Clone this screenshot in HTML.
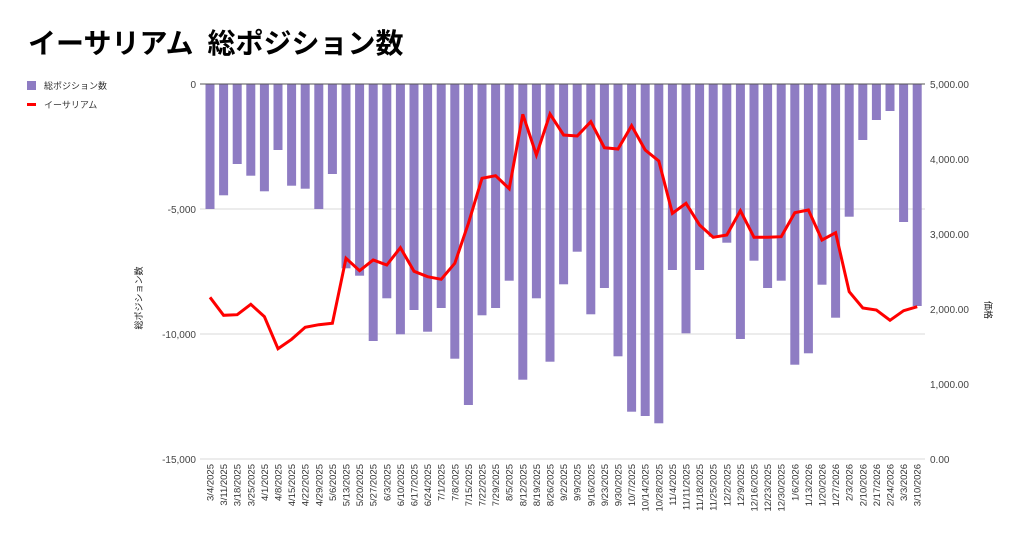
<!DOCTYPE html>
<html><head><meta charset="utf-8"><style>
html,body{margin:0;padding:0;background:#fff;}
svg{display:block;font-family:"Liberation Sans","Noto Sans CJK JP",sans-serif;}
</style></head><body>
<svg id="s" width="1024" height="543" viewBox="0 0 1024 543" xmlns="http://www.w3.org/2000/svg">
<rect width="1024" height="543" fill="#fff"/>
<text x="28" y="53" font-size="28" font-weight="bold" fill="#000">イーサリアム<tspan dx="14">総ポジション数</tspan></text>
<rect x="27" y="81" width="9" height="9" fill="#8e7cc3"/>
<text x="44" y="89" font-size="9" fill="#333">総ポジション数</text>
<rect x="27" y="103" width="9" height="3" fill="#ff0000"/>
<text x="44" y="108" font-size="9" fill="#333">イーサリアム</text>
<g stroke="#d9d9d9" stroke-width="1">
<line x1="200" y1="209" x2="925" y2="209"/><line x1="200" y1="334" x2="925" y2="334"/><line x1="200" y1="459" x2="925" y2="459"/>
</g>
<g id="bars" fill="#8e7cc3"></g>
<line x1="200" y1="84" x2="925" y2="84" stroke="#555" stroke-width="1"/>
<polyline id="ln" fill="none" stroke="#ff0000" stroke-width="3" stroke-linejoin="miter"/>
<g font-size="10" fill="#444" text-anchor="end">
<text x="196" y="88">0</text><text x="196" y="213">-5,000</text><text x="196" y="338">-10,000</text><text x="196" y="463">-15,000</text>
</g>
<g font-size="10" fill="#444">
<text x="930" y="88">5,000.00</text><text x="930" y="163">4,000.00</text><text x="930" y="238">3,000.00</text><text x="930" y="313">2,000.00</text><text x="930" y="388">1,000.00</text><text x="930" y="463">0.00</text>
</g>
<text transform="translate(142,298) rotate(-90)" font-size="9" fill="#222" text-anchor="middle">総ポジション数</text>
<text transform="translate(985,310) rotate(90)" font-size="9" fill="#222" text-anchor="middle">価格</text>
<g font-size="9.5" fill="#333" text-anchor="end">
<text transform="translate(213.5,464) rotate(-90)">3/4/2025</text>
<text transform="translate(227.1,464) rotate(-90)">3/11/2025</text>
<text transform="translate(240.7,464) rotate(-90)">3/18/2025</text>
<text transform="translate(254.3,464) rotate(-90)">3/25/2025</text>
<text transform="translate(267.9,464) rotate(-90)">4/1/2025</text>
<text transform="translate(281.5,464) rotate(-90)">4/8/2025</text>
<text transform="translate(295.1,464) rotate(-90)">4/15/2025</text>
<text transform="translate(308.7,464) rotate(-90)">4/22/2025</text>
<text transform="translate(322.3,464) rotate(-90)">4/29/2025</text>
<text transform="translate(335.9,464) rotate(-90)">5/6/2025</text>
<text transform="translate(349.5,464) rotate(-90)">5/13/2025</text>
<text transform="translate(363.1,464) rotate(-90)">5/20/2025</text>
<text transform="translate(376.7,464) rotate(-90)">5/27/2025</text>
<text transform="translate(390.3,464) rotate(-90)">6/3/2025</text>
<text transform="translate(403.9,464) rotate(-90)">6/10/2025</text>
<text transform="translate(417.5,464) rotate(-90)">6/17/2025</text>
<text transform="translate(431.1,464) rotate(-90)">6/24/2025</text>
<text transform="translate(444.7,464) rotate(-90)">7/1/2025</text>
<text transform="translate(458.3,464) rotate(-90)">7/8/2025</text>
<text transform="translate(471.9,464) rotate(-90)">7/15/2025</text>
<text transform="translate(485.5,464) rotate(-90)">7/22/2025</text>
<text transform="translate(499.1,464) rotate(-90)">7/29/2025</text>
<text transform="translate(512.7,464) rotate(-90)">8/5/2025</text>
<text transform="translate(526.3,464) rotate(-90)">8/12/2025</text>
<text transform="translate(539.9,464) rotate(-90)">8/19/2025</text>
<text transform="translate(553.5,464) rotate(-90)">8/26/2025</text>
<text transform="translate(567.1,464) rotate(-90)">9/2/2025</text>
<text transform="translate(580.7,464) rotate(-90)">9/9/2025</text>
<text transform="translate(594.3,464) rotate(-90)">9/16/2025</text>
<text transform="translate(607.9,464) rotate(-90)">9/23/2025</text>
<text transform="translate(621.5,464) rotate(-90)">9/30/2025</text>
<text transform="translate(635.1,464) rotate(-90)">10/7/2025</text>
<text transform="translate(648.7,464) rotate(-90)">10/14/2025</text>
<text transform="translate(662.3,464) rotate(-90)">10/28/2025</text>
<text transform="translate(675.9,464) rotate(-90)">11/4/2025</text>
<text transform="translate(689.5,464) rotate(-90)">11/11/2025</text>
<text transform="translate(703.1,464) rotate(-90)">11/18/2025</text>
<text transform="translate(716.7,464) rotate(-90)">11/25/2025</text>
<text transform="translate(730.3,464) rotate(-90)">12/2/2025</text>
<text transform="translate(743.9,464) rotate(-90)">12/9/2025</text>
<text transform="translate(757.5,464) rotate(-90)">12/16/2025</text>
<text transform="translate(771.1,464) rotate(-90)">12/23/2025</text>
<text transform="translate(784.7,464) rotate(-90)">12/30/2025</text>
<text transform="translate(798.3,464) rotate(-90)">1/6/2026</text>
<text transform="translate(811.9,464) rotate(-90)">1/13/2026</text>
<text transform="translate(825.5,464) rotate(-90)">1/20/2026</text>
<text transform="translate(839.1,464) rotate(-90)">1/27/2026</text>
<text transform="translate(852.7,464) rotate(-90)">2/3/2026</text>
<text transform="translate(866.3,464) rotate(-90)">2/10/2026</text>
<text transform="translate(879.9,464) rotate(-90)">2/17/2026</text>
<text transform="translate(893.5,464) rotate(-90)">2/24/2026</text>
<text transform="translate(907.1,464) rotate(-90)">3/3/2026</text>
<text transform="translate(920.7,464) rotate(-90)">3/10/2026</text>
</g>
</svg>
<script>
var h=[125,111.3,80,91.7,107.3,66,101.7,104.7,125,90,184.3,191.7,257,214.3,250.3,226,247.7,224,274.7,321,231.3,224,196.7,295.7,214.3,277.7,200.3,167.7,230.3,204,272.3,327.7,332,339.3,186,249.3,186,152.7,158.7,255,176.7,204,196.7,280.7,269.3,200.7,233.7,132.7,56,36,27,138,222];
var ly=[297.3,315.3,314.7,304.3,316.7,348.7,339.3,327.3,324.7,323.3,258.3,270.7,260,265,247.7,271.3,276.7,279.3,263.3,223.3,178.3,175.7,188.7,114.3,155,114,135,136,121.7,147.7,149,125.7,150,161,213.3,203.3,225,237.3,235,210.7,237.3,237.3,236.7,212.7,210,240,232.7,291.7,308,310,320.3,310.7,306.7];
var ns="http://www.w3.org/2000/svg",g=document.getElementById("bars"),pts=[];
for(var i=0;i<h.length;i++){var x=210+13.6*i;var r=document.createElementNS(ns,"rect");
r.setAttribute("x",x-4.5);r.setAttribute("y",84);r.setAttribute("width",9);r.setAttribute("height",h[i]);g.appendChild(r);
pts.push(x.toFixed(1)+","+ly[i]);}
document.getElementById("ln").setAttribute("points",pts.join(" "));
</script>
</body></html>
